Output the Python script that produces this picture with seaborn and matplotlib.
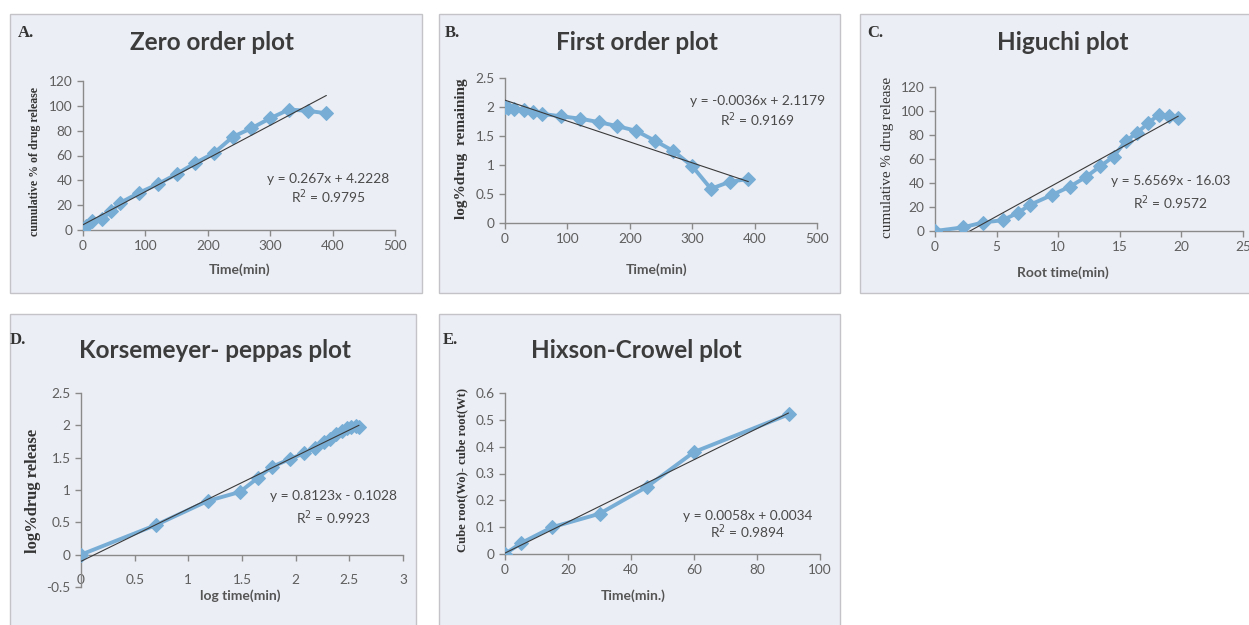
import matplotlib.pyplot as plt
import seaborn as sns
import numpy as np
import pandas as pd
from matplotlib.patches import Rectangle
from matplotlib.ticker import FuncFormatter, MultipleLocator

sns.set_theme(style='ticks')
plt.rcParams['font.family'] = ['Lato', 'DejaVu Sans']

# data
time_min = [0, 5, 15, 30, 45, 60, 90, 120, 150, 180, 210, 240, 270, 300, 330, 360, 390]
cum_release = [0, 3, 7, 9, 15, 22, 30, 37, 45, 54, 62, 75, 82, 90, 97, 96, 94]
log_remaining = [2.0, 1.98, 1.96, 1.94, 1.92, 1.88, 1.84, 1.80, 1.74, 1.67, 1.59, 1.42,
                 1.24, 0.98, 0.59, 0.71, 0.76]
root_time = [0, 2.24, 3.87, 5.48, 6.71, 7.75, 9.49, 10.95, 12.25, 13.42, 14.49, 15.49,
             16.43, 17.32, 18.17, 18.97, 19.75]
log_time = [0, 0.70, 1.18, 1.48, 1.65, 1.78, 1.95, 2.08, 2.18, 2.26, 2.32, 2.38, 2.43,
            2.48, 2.52, 2.56, 2.59]
log_release = [0, 0.46, 0.83, 0.97, 1.19, 1.36, 1.48, 1.57, 1.65, 1.74, 1.79, 1.87, 1.92,
               1.96, 1.98, 1.99, 1.98]
hc_time = [0, 5, 15, 30, 45, 60, 90]
hc_value = [0, 0.04, 0.10, 0.15, 0.25, 0.38, 0.52]

# trendline coefficients (slope, intercept) and r2 as printed
fits = {
    'A': (0.267, 4.2228, 0.9795),
    'B': (-0.0036, 2.1179, 0.9169),
    'C': (5.6569, -16.03, 0.9572),
    'D': (0.8123, -0.1028, 0.9923),
    'E': (0.0058, 0.0034, 0.9894),
}

W, H = 1249, 625
fig = plt.figure(figsize=(12.49, 6.25), dpi=100)
fig.patch.set_facecolor('white')

def fx(x):
    return x / W

def fy(y):
    return 1 - y / H

def panel_box(x0, y0, x1, y1):
    fig.patches.append(Rectangle((fx(x0), fy(y1)), fx(x1 - x0), (y1 - y0) / H,
                                 transform=fig.transFigure, facecolor='#eceef5',
                                 edgecolor='#c4c4c8', lw=1, zorder=-10))

def make_axes(x0, x1, ytop, ybot):
    ax = fig.add_axes([fx(x0), fy(ybot), fx(x1 - x0), (ybot - ytop) / H])
    ax.patch.set_alpha(0)
    for s in ['top', 'right']:
        ax.spines[s].set_visible(False)
    for s in ['left', 'bottom']:
        ax.spines[s].set_color('#8a8a8a')
        ax.spines[s].set_linewidth(1)
    ax.tick_params(colors='#8a8a8a', labelcolor='#5e5e5e', labelsize=9.8,
                   direction='out', length=4, width=1)
    fmt = FuncFormatter(lambda v, p: '{:g}'.format(round(v, 3)))
    ax.xaxis.set_major_formatter(fmt)
    ax.yaxis.set_major_formatter(fmt)
    return ax

line_col = '#78aed6'

def draw(ax, x, y, key):
    df = pd.DataFrame({'x': x, 'y': y})
    sns.lineplot(data=df, x='x', y='y', ax=ax, color=line_col, lw=2.8, marker='D',
                 markersize=7.5, markeredgecolor=line_col, estimator=None, zorder=3)
    m, b, _ = fits[key]
    xs = np.array([x[0], x[-1]])
    ax.plot(xs, m * xs + b, color='#3a3a3a', lw=0.8, zorder=4)
    ax.set_xlabel('')
    ax.set_ylabel('')

def eq_text(ax, key, x, y1, y2):
    m, b, r2 = fits[key]
    sign = '+' if b >= 0 else '-'
    ax.text(x, y1, 'y = {:g}x {} {:g}'.format(m, sign, abs(b)), ha='center', va='center',
            fontsize=9.9, color='#4a4a4a')
    ax.text(x, y2, 'R$^2$ = {:g}'.format(r2), ha='center', va='center',
            fontsize=9.9, color='#4a4a4a')

def titles(letter, lx, ly, title, tx, ty):
    fig.text(fx(lx), fy(ly), letter, family='Liberation Serif', weight='bold',
             fontsize=12, color='#333333', va='center')
    fig.text(fx(tx), fy(ty), title, weight='bold', fontsize=17.5, color='#3c3c3c',
             ha='center', va='center')

def labels(xl, xx, xy, yl, yx, yy, ysize, serif_bold=True):
    fig.text(fx(xx), fy(xy), xl, weight='bold', fontsize=10, color='#555555',
             ha='center', va='center')
    fig.text(fx(yx), fy(yy), yl, family='Liberation Serif',
             weight='bold' if serif_bold else 'normal', fontsize=ysize, color='#333333',
             rotation=90, ha='center', va='center')

# panel boxes
panel_box(10, 14, 422, 293)
panel_box(439, 14, 840, 293)
panel_box(860, 14, 1252, 293)
panel_box(10, 314, 416, 628)
panel_box(439, 314, 840, 628)

# A. zero order
ax = make_axes(83, 395, 81, 230)
draw(ax, time_min, cum_release, 'A')
ax.set_xlim(0, 500); ax.set_ylim(0, 120)
ax.xaxis.set_major_locator(MultipleLocator(100)); ax.yaxis.set_major_locator(MultipleLocator(20))
eq_text(ax, 'A', 393, 41, 27)
titles('A.', 18, 33, 'Zero order plot', 212, 43)
labels('Time(min)', 240, 270, 'cumulative % of drug release', 35, 162, 8.6)

# B. first order
ax = make_axes(505, 817, 78, 223)
draw(ax, time_min, log_remaining, 'B')
ax.set_xlim(0, 500); ax.set_ylim(0, 2.5)
ax.xaxis.set_major_locator(MultipleLocator(100)); ax.yaxis.set_major_locator(MultipleLocator(0.5))
eq_text(ax, 'B', 405, 2.10, 1.78)
titles('B.', 445, 33, 'First order plot', 637, 43)
labels('Time(min)', 657, 270, 'log%drug  remaining', 462, 149, 11)

# C. higuchi
ax = make_axes(935, 1243, 87, 231)
draw(ax, root_time, cum_release, 'C')
ax.set_xlim(0, 25); ax.set_ylim(0, 120)
ax.xaxis.set_major_locator(MultipleLocator(5)); ax.yaxis.set_major_locator(MultipleLocator(20))
eq_text(ax, 'C', 19.1, 41.7, 23.3)
titles('C.', 867, 33, 'Higuchi plot', 1063, 43)
labels('Root time(min)', 1063, 273, 'cumulative % drug release', 888, 157, 10.9,
       serif_bold=False)

# D. korsmeyer-peppas
ax = make_axes(81, 403, 393, 587)
draw(ax, log_time, log_release, 'D')
ax.set_xlim(0, 3); ax.set_ylim(-0.5, 2.5)
ax.xaxis.set_major_locator(MultipleLocator(0.5)); ax.yaxis.set_major_locator(MultipleLocator(0.5))
ax.spines['bottom'].set_position(('data', 0))
ax.tick_params(axis='x', pad=10)
eq_text(ax, 'D', 2.35, 0.90, 0.57)
titles('D.', 10, 340, 'Korsemeyer- peppas plot', 215, 351)
labels('log time(min)', 240, 596, 'log%drug release', 33, 491, 12)

# E. hixson-crowell
ax = make_axes(505, 820, 393, 554)
draw(ax, hc_time, hc_value, 'E')
ax.set_xlim(0, 100); ax.set_ylim(0, 0.6)
ax.xaxis.set_major_locator(MultipleLocator(20)); ax.yaxis.set_major_locator(MultipleLocator(0.1))
eq_text(ax, 'E', 77, 0.142, 0.082)
titles('E.', 443, 340, 'Hixson-Crowel plot', 636, 351)
labels('Time(min.)', 633, 596, 'Cube root(Wo)- cube root(Wt)', 462, 470, 9.1)

plt.savefig('out.png', dpi=100)
plt.close()
